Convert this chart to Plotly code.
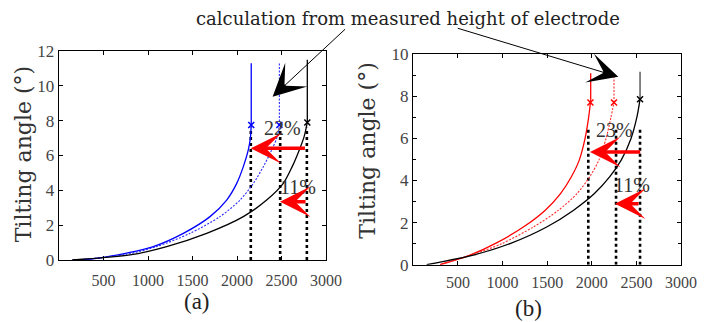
import plotly.graph_objects as go

# ---------------- Panel (a) data ----------------
a_blue_solid_x = [150, 400, 760, 1060, 1397, 1697, 1884, 1997, 2071, 2127, 2150, 2160]
a_blue_solid_y = [0, 0.08, 0.40, 0.77, 1.53, 2.49, 3.44, 4.40, 5.36, 6.32, 7.0, 7.75]
a_blue_solid_vert_x = [2160, 2160]
a_blue_solid_vert_y = [7.75, 11.3]

a_blue_dot_x = [200, 760, 1098, 1472, 1809, 2034, 2184, 2296, 2390, 2453, 2476]
a_blue_dot_y = [0, 0.33, 0.77, 1.53, 2.49, 3.44, 4.40, 5.36, 6.32, 7.08, 7.75]
a_blue_dot_vert_x = [2476, 2476]
a_blue_dot_vert_y = [7.75, 11.3]

a_black_x = [150, 798, 1210, 1659, 2071, 2333, 2520, 2620, 2700, 2755, 2790]
a_black_y = [0, 0.29, 0.77, 1.53, 2.49, 3.44, 4.40, 5.36, 6.32, 7.1, 7.9]
a_black_vert_x = [2790, 2790]
a_black_vert_y = [7.9, 11.5]

a_mark_x = [2160, 2476, 2790]
a_mark_y = [7.75, 7.75, 7.9]
a_mark_colors = ["#0000ff", "#0000ff", "#000000"]

a_guide_x = [2155, 2485, 2785]
a_guide_top = [7.6, 7.6, 7.6]

a_pct_labels = ["22%", "11%"]
a_pct_x = [2511, 2685]
a_pct_y = [7.58, 4.21]

a_red_tip_x = [2154, 2483]
a_red_tail_x = [2780, 2787]
a_red_y = [6.41, 3.35]

# ---------------- Panel (b) data ----------------
b_red_solid_x = [300, 635, 916, 1233, 1476, 1650, 1770, 1860, 1925, 1965, 1985]
b_red_solid_y = [0, 0.45, 1.0, 1.79, 2.58, 3.38, 4.17, 4.97, 6.0, 7.0, 7.71]
b_red_solid_vert_x = [1988, 1988]
b_red_solid_vert_y = [7.71, 9.1]

b_red_dot_x = [300, 643, 991, 1345, 1625, 1835, 1975, 2080, 2160, 2215, 2249]
b_red_dot_y = [0, 0.45, 1.0, 1.79, 2.58, 3.38, 4.17, 4.97, 6.0, 7.0, 7.71]
b_red_dot_vert_x = [2249, 2249]
b_red_dot_vert_y = [7.71, 8.93]

b_black_x = [150, 672, 1084, 1495, 1793, 2030, 2200, 2330, 2440, 2505, 2541]
b_black_y = [0, 0.45, 1.0, 1.79, 2.58, 3.38, 4.17, 4.97, 6.0, 7.0, 7.86]
b_black_vert_x = [2541, 2541]
b_black_vert_y = [7.86, 9.17]

b_mark_x = [1985, 2249, 2541]
b_mark_y = [7.71, 7.71, 7.86]
b_mark_colors = ["#ff0000", "#ff0000", "#000000"]

b_guide_x = [1961, 2272, 2541]
b_guide_top = [6.48, 6.48, 6.48]

b_pct_labels = ["23%", "11%"]
b_pct_x = [2260, 2447]
b_pct_y = [6.40, 3.78]

b_red_tip_x = [1980, 2260]
b_red_tail_x = [2560, 2541]
b_red_y = [5.36, 2.90]

x_tick_vals = [500, 1000, 1500, 2000, 2500, 3000]
a_y_tick_vals = [0, 2, 4, 6, 8, 10, 12]
b_y_tick_vals = [0, 2, 4, 6, 8, 10]

y_title = "Tilting angle (°)"
note_text = "calculation from measured height of electrode"
a_arrow_tip = (2400, 9.37)
b_arrow_tip = (2297, 8.93)

SERIF = "Liberation Serif"
WIDE = "DejaVu Serif"

fig = go.Figure()


def line(x, y, color, dash, width, xa, ya, shape="spline"):
    fig.add_trace(go.Scatter(x=x, y=y, mode="lines", xaxis=xa, yaxis=ya,
                             line=dict(color=color, dash=dash, width=width,
                                       shape=shape, smoothing=0.8),
                             showlegend=False, hoverinfo="skip"))


for gx, gt in zip(a_guide_x, a_guide_top):
    line([gx, gx], [0, gt], "#000000", "dot", 2.6, "x", "y", "linear")
for gx, gt in zip(b_guide_x, b_guide_top):
    line([gx, gx], [0, gt], "#000000", "dot", 2.6, "x2", "y2", "linear")

# panel a curves
line(a_blue_solid_x, a_blue_solid_y, "#0000ff", "solid", 1.3, "x", "y")
line(a_blue_solid_vert_x, a_blue_solid_vert_y, "#0000ff", "solid", 1.3, "x", "y", "linear")
line(a_blue_dot_x, a_blue_dot_y, "#2a2aff", "2px,1.5px", 1.1, "x", "y")
line(a_blue_dot_vert_x, a_blue_dot_vert_y, "#2a2aff", "2px,1.5px", 1.1, "x", "y", "linear")
line(a_black_x, a_black_y, "#000000", "solid", 1.3, "x", "y")
line(a_black_vert_x, a_black_vert_y, "#000000", "solid", 1.3, "x", "y", "linear")

# panel b curves
line(b_red_solid_x, b_red_solid_y, "#ff0000", "solid", 1.3, "x2", "y2")
line(b_red_solid_vert_x, b_red_solid_vert_y, "#ff0000", "solid", 1.3, "x2", "y2", "linear")
line(b_red_dot_x, b_red_dot_y, "#ff2a2a", "2px,1.5px", 1.1, "x2", "y2")
line(b_red_dot_vert_x, b_red_dot_vert_y, "#ff2a2a", "2px,1.5px", 1.1, "x2", "y2", "linear")
line(b_black_x, b_black_y, "#000000", "solid", 1.3, "x2", "y2")
line(b_black_vert_x, b_black_vert_y, "#444444", "solid", 1.3, "x2", "y2", "linear")

# markers
fig.add_trace(go.Scatter(x=a_mark_x, y=a_mark_y, mode="markers", xaxis="x", yaxis="y",
                         marker=dict(symbol="x-thin", size=6, line=dict(width=1.5, color=a_mark_colors)),
                         showlegend=False, hoverinfo="skip"))
fig.add_trace(go.Scatter(x=b_mark_x, y=b_mark_y, mode="markers", xaxis="x2", yaxis="y2",
                         marker=dict(symbol="x-thin", size=6, line=dict(width=1.5, color=b_mark_colors)),
                         showlegend=False, hoverinfo="skip"))

annotations = []
# percentage labels
for labels, xs, ys, xr, yr in [(a_pct_labels, a_pct_x, a_pct_y, "x", "y"),
                               (b_pct_labels, b_pct_x, b_pct_y, "x2", "y2")]:
    for t, px, py in zip(labels, xs, ys):
        annotations.append(dict(x=px, y=py, xref=xr, yref=yr, text=t, showarrow=False,
                                xanchor="center", yanchor="middle",
                                font=dict(family=SERIF, size=20, color="#333333")))

# red arrows
for tips, tails, ys, xr, yr in [(a_red_tip_x, a_red_tail_x, a_red_y, "x", "y"),
                                (b_red_tip_x, b_red_tail_x, b_red_y, "x2", "y2")]:
    for tx, sx, yy in zip(tips, tails, ys):
        annotations.append(dict(x=tx, y=yy, xref=xr, yref=yr, ax=sx, ay=yy,
                                axref=xr, ayref=yr, text="", showarrow=True,
                                arrowhead=3, arrowsize=1.45, arrowwidth=3.5,
                                arrowcolor="#ff0000", standoff=0))

# black arrows from the note
annotations.append(dict(x=a_arrow_tip[0], y=a_arrow_tip[1], xref="x", yref="y",
                        ax=74, ay=-69, text="", showarrow=True, arrowhead=3,
                        arrowsize=5.4, arrowwidth=1, arrowcolor="#000000", standoff=0))
annotations.append(dict(x=b_arrow_tip[0], y=b_arrow_tip[1], xref="x2", yref="y2",
                        ax=-162, ay=-49, text="", showarrow=True, arrowhead=3,
                        arrowsize=5.0, arrowwidth=1, arrowcolor="#000000", standoff=0))

# note text
annotations.append(dict(x=407.5 / 726, y=(322 - 19) / 322, xref="paper", yref="paper",
                        text=note_text, showarrow=False, xanchor="center", yanchor="middle",
                        font=dict(family=WIDE, size=18, color="#222222")))
# y titles
for tx, ty in [(23.3, 154), (366.7, 151)]:
    annotations.append(dict(x=tx / 726, y=(322 - ty) / 322, xref="paper", yref="paper",
                            text=y_title, textangle=-90, showarrow=False,
                            xanchor="center", yanchor="middle",
                            font=dict(family=WIDE, size=22, color="#333333")))
# panel labels
annotations.append(dict(x=196.7 / 726, y=(322 - 301) / 322, xref="paper", yref="paper",
                        text="(a)", showarrow=False, xanchor="center", yanchor="middle",
                        font=dict(family=SERIF, size=23, color="#222222")))
annotations.append(dict(x=528 / 726, y=(322 - 308) / 322, xref="paper", yref="paper",
                        text="(b)", showarrow=False, xanchor="center", yanchor="middle",
                        font=dict(family=SERIF, size=23, color="#222222")))

axis_common = dict(showgrid=False, zeroline=False, showline=True, linecolor="#000000",
                   linewidth=1.3, mirror="ticks", ticks="inside", ticklen=4,
                   tickcolor="#000000", tickwidth=1, automargin=False)

fig.update_layout(
    template="none",
    width=726, height=322,
    margin=dict(l=0, r=0, t=0, b=0, autoexpand=False),
    paper_bgcolor="white", plot_bgcolor="white",
    showlegend=False,
    xaxis=dict(domain=[59 / 726, 326 / 726], range=[0, 3000], anchor="y",
               tickvals=x_tick_vals, ticklabelstandoff=5,
               tickfont=dict(family=SERIF, size=16, color="#444444"), **axis_common),
    yaxis=dict(domain=[(322 - 260) / 322, (322 - 51) / 322], range=[0, 12], anchor="x",
               tickvals=a_y_tick_vals,
               tickfont=dict(family=SERIF, size=17, color="#444444"), **axis_common),
    xaxis2=dict(domain=[413.3 / 726, 681 / 726], range=[0, 3000], anchor="y2",
                tickvals=x_tick_vals, ticklabelstandoff=3,
                tickfont=dict(family=SERIF, size=16, color="#444444"), **axis_common),
    yaxis2=dict(domain=[(322 - 264.7) / 322, (322 - 54.3) / 322], range=[0, 10], anchor="x2",
                tickvals=b_y_tick_vals,
                minor=dict(dtick=1, ticks="inside", ticklen=3, tickcolor="#000000"),
                tickfont=dict(family=SERIF, size=17, color="#444444"), **axis_common),
    annotations=annotations,
)

fig.write_html("out.html",
               config={"displayModeBar": False, "staticPlot": True},
               post_script="document.body.style.margin='0';document.body.style.padding='0';")
